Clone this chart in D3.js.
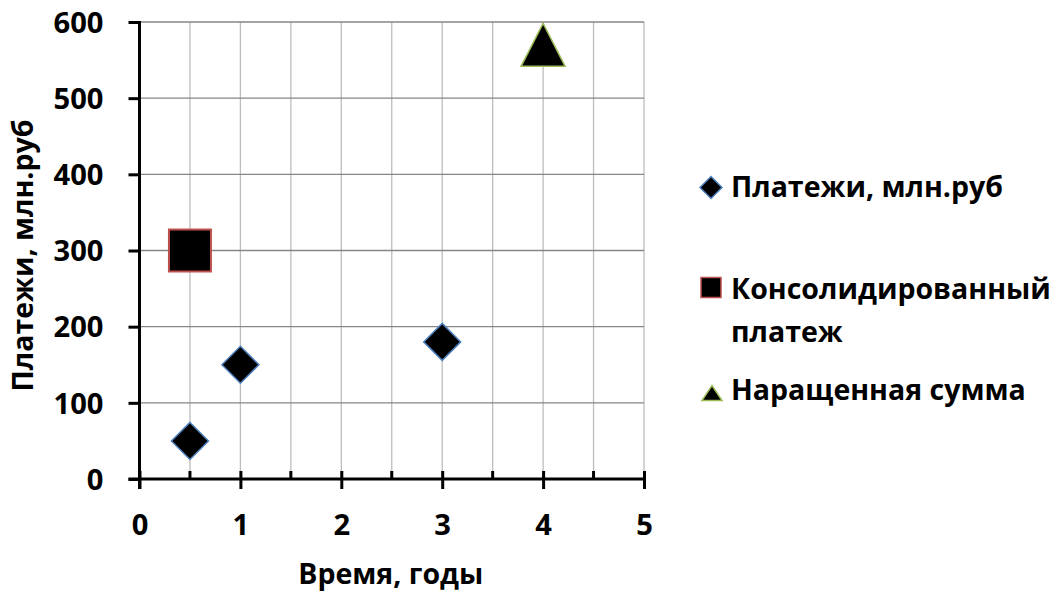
<!DOCTYPE html>
<html>
<head>
<meta charset="utf-8">
<script src="https://cdn.jsdelivr.net/npm/d3@7"></script>
<style>
  html, body { margin: 0; padding: 0; background: #fff; }
  svg { display: block; }
  text { font-family: "Open Sans", "Noto Sans", sans-serif; font-weight: 700; fill: #000; }
</style>
</head>
<body>
<svg id="chart" width="1058" height="594"></svg>
<script>
// Payment schedule (time in years, amounts in million roubles)
const paymentTimes = [0.5, 1, 3];
const paymentValues = [50, 150, 180];
const consolidatedTimes = [0.5];
const consolidatedValues = [300];
const accruedTimes = [4];
const accruedValues = [570];

const seriesNames = ["Платежи, млн.руб", "Консолидированный платеж", "Наращенная сумма"];
const xTickValues = [0, 1, 2, 3, 4, 5];
const xMinorTicks = [0.5, 1.5, 2.5, 3.5, 4.5];
const yTickValues = [0, 100, 200, 300, 400, 500, 600];
const xTitle = "Время, годы";
const yTitle = "Платежи, млн.руб";

const svg = d3.select("#chart");

const x = d3.scaleLinear().domain([0, 5]).range([139.5, 644]);
const y = d3.scaleLinear().domain([0, 600]).range([479, 22]);

// pick font sizes so text runs the desired length
function fitSize(str, width) {
  const t = svg.append("text").attr("font-size", 100).text(str);
  const w = t.node().getComputedTextLength();
  t.remove();
  return 100 * width / w;
}
const tickFont = fitSize("600", 50);
const labelFont = fitSize("Платежи, млн.руб", 272);

// gridlines
const grid = svg.append("g");
grid.selectAll("line.v")
  .data(d3.range(0.5, 5.01, 0.5))
  .join("line")
  .attr("x1", d => x(d)).attr("x2", d => x(d))
  .attr("y1", y(600)).attr("y2", y(0))
  .attr("stroke", "#bdbdbd").attr("stroke-width", 1.3);
grid.selectAll("line.h")
  .data(yTickValues.slice(1))
  .join("line")
  .attr("x1", x(0)).attr("x2", x(5))
  .attr("y1", d => y(d)).attr("y2", d => y(d))
  .attr("stroke", "#868686").attr("stroke-width", 1.3);

// y axis
const yAxis = svg.append("g")
  .attr("transform", `translate(${x(0)},0)`)
  .call(d3.axisLeft(y).tickValues(yTickValues).tickSize(11).tickPadding(24).tickFormat(d3.format("d")));
yAxis.select(".domain").remove();
yAxis.selectAll(".tick line").attr("stroke", "#000").attr("stroke-width", 3);
yAxis.selectAll(".tick text").attr("font-size", tickFont).attr("font-family", null).attr("dy", "0.35em").attr("x", -36);
yAxis.append("line")
  .attr("x1", 0).attr("x2", 0).attr("y1", y(600) - 1).attr("y2", y(0) + 10)
  .attr("stroke", "#000").attr("stroke-width", 3);

// x axis
const xAxis = svg.append("g")
  .attr("transform", `translate(0,${y(0)})`)
  .call(d3.axisBottom(x).tickValues(xTickValues).tickSize(10).tickPadding(24).tickFormat(d3.format("d")));
xAxis.select(".domain").remove();
xAxis.selectAll(".tick line").attr("y1", -8).attr("stroke", "#000").attr("stroke-width", 3);
xAxis.selectAll(".tick text").attr("font-size", tickFont).attr("font-family", null).attr("dy", null).attr("y", 56);
xAxis.selectAll("line.minor")
  .data(xMinorTicks)
  .join("line")
  .attr("class", "minor")
  .attr("x1", d => x(d)).attr("x2", d => x(d))
  .attr("y1", -8).attr("y2", 0)
  .attr("stroke", "#000").attr("stroke-width", 3);
xAxis.append("line")
  .attr("x1", x(0) - 11).attr("x2", x(5) + 1.5).attr("y1", 0).attr("y2", 0)
  .attr("stroke", "#000").attr("stroke-width", 3);

// axis titles
svg.append("text")
  .attr("x", (x(0) + x(5)) / 2 - 1).attr("y", 584)
  .attr("text-anchor", "middle").attr("font-size", labelFont)
  .text(xTitle);
svg.append("text")
  .attr("transform", `translate(33,${(y(0) + y(600)) / 2 + 5}) rotate(-90)`)
  .attr("text-anchor", "middle").attr("font-size", labelFont)
  .text(yTitle);

// marker shapes
function diamondPath(r) { return `M0,${-r}L${r},0L0,${r}L${-r},0Z`; }
function squarePath(s) { return `M${-s/2},${-s/2}h${s}v${s}h${-s}Z`; }
function trianglePath(w, h) { return `M0,${-h/2}L${w/2},${h/2}L${-w/2},${h/2}Z`; }

const pay = paymentTimes.map((t, i) => ({ t, v: paymentValues[i] }));
const cons = consolidatedTimes.map((t, i) => ({ t, v: consolidatedValues[i] }));
const acc = accruedTimes.map((t, i) => ({ t, v: accruedValues[i] }));

svg.append("g").selectAll("path")
  .data(pay).join("path")
  .attr("transform", d => `translate(${x(d.t)},${y(d.v)})`)
  .attr("d", diamondPath(18.5))
  .attr("fill", "#000").attr("stroke", "#4f81bd").attr("stroke-width", 1.5);

svg.append("g").selectAll("path")
  .data(cons).join("path")
  .attr("transform", d => `translate(${x(d.t)},${y(d.v)})`)
  .attr("d", squarePath(42))
  .attr("fill", "#000").attr("stroke", "#c0504d").attr("stroke-width", 2);

svg.append("g").selectAll("path")
  .data(acc).join("path")
  .attr("transform", d => `translate(${x(d.t)},${y(d.v)})`)
  .attr("d", trianglePath(44, 43))
  .attr("fill", "#000").attr("stroke", "#9bbb59").attr("stroke-width", 1.5);

// legend
const legend = svg.append("g");
legend.append("path").attr("transform", "translate(711,187.5)")
  .attr("d", diamondPath(11)).attr("fill", "#000").attr("stroke", "#4f81bd").attr("stroke-width", 1.5);
legend.append("text").attr("x", 731).attr("y", 197).attr("font-size", labelFont).text(seriesNames[0]);

legend.append("path").attr("transform", "translate(711,287.5)")
  .attr("d", squarePath(20)).attr("fill", "#000").attr("stroke", "#c0504d").attr("stroke-width", 1.5);
const consText = legend.append("text").attr("x", 731).attr("y", 299).attr("font-size", labelFont);
const consWords = seriesNames[1].split(" ");
consText.append("tspan").attr("x", 731).text(consWords[0]);
consText.append("tspan").attr("x", 731).attr("dy", 43).text(consWords[1]);

legend.append("path").attr("transform", "translate(712,393)")
  .attr("d", trianglePath(20, 15)).attr("fill", "#000").attr("stroke", "#9bbb59").attr("stroke-width", 1.5);
legend.append("text").attr("x", 731).attr("y", 400).attr("font-size", labelFont).text(seriesNames[2]);
</script>
</body>
</html>
